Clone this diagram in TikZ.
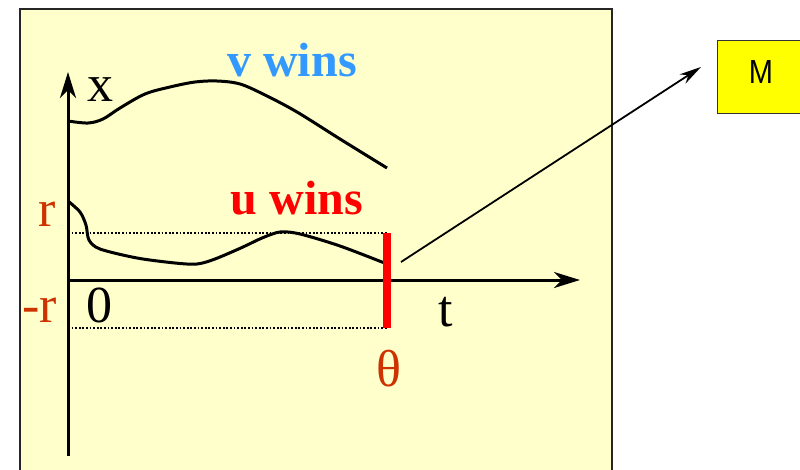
\documentclass[tikz,border=0pt]{standalone}
\usepackage{fontspec}
\setmainfont{Liberation Serif}
\newfontfamily\armfont{Liberation Sans}
\usetikzlibrary{arrows.meta}
\definecolor{panelbg}{HTML}{FFFFCC}
\definecolor{vblue}{HTML}{3399FF}
\definecolor{ured}{HTML}{FF0000}
\definecolor{rlab}{HTML}{CC3300}
\definecolor{mbox}{HTML}{FFFF00}
\tikzset{
  axis/.style={line width=3pt,-{Stealth[length=26pt,width=16pt,inset=8pt]}},
  curve/.style={line width=3pt,smooth,tension=0.55},
  guide/.style={line width=2.2pt,dash pattern=on 1.8pt off 1.8pt},
  lab/.style={inner sep=0pt,font=\fontsize{52}{52}\selectfont},
  wins/.style={inner sep=0pt,font=\fontsize{48}{48}\selectfont\bfseries},
}
\begin{document}
\begin{tikzpicture}[x=1pt,y=-1pt]
\useasboundingbox (0,0) rectangle (800,469);
\begin{scope}
\clip (0,0) rectangle (800,469);
\draw[fill=panelbg,draw=black!85,line width=2.4pt] (20,9) rectangle (612,490);
\node[draw=black!80,fill=mbox,line width=1.4pt,minimum width=90pt,minimum height=73pt,inner sep=0pt,anchor=north west] (M) at (717,40) {};
\end{scope}
\node[inner sep=0pt,font=\armfont\fontsize{29}{29}\selectfont,yscale=1.15] (Mlab) at (761,72) {M};
% coordinates
\coordinate (ybot) at (68,456);
\coordinate (ytop) at (68,72);
\coordinate (tl) at (68,280);
\coordinate (tr) at (580,280);
\coordinate (ru) at (68,233);
\coordinate (rl) at (68,328);
\coordinate (thu) at (387,233);
\coordinate (thl) at (387,328);
\coordinate (as) at (401,262);
\coordinate (ae) at (701,67);
% dotted guides
\draw[guide] (ru) -- (thu);
\draw[guide] (rl) -- (thl);
% axes
\draw[axis] (ybot) -- (ytop);
\draw[axis] (tl) -- (tr);
% curves
\draw[curve] plot coordinates {(68,121) (88,123) (103,119) (120,108) (145,94) (170,87) (195,82) (217,81) (240,84) (265,95) (297,112) (340,139) (387,168)};
\draw[curve,tension=0.5] plot coordinates {(68,201) (80,212) (86,225) (89,240) (100,249) (137,258) (175,263) (197,264) (215,259) (243,247) (262,238) (280,232) (300,234) (340,246) (387,264)};
% red bar
\draw[ured,line width=7.5pt] (thu) -- (thl);
% arrow to M
\draw[line width=1.8pt,-{Stealth[length=22pt,width=11pt,inset=7pt]}] (as) -- (ae);
% labels
\node[wins,text=vblue] (vw) at (292,60) {v wins};
\node[wins,text=ured] (uw) at (297,198) {u wins};
\node[lab] (xl) at (100,90) {x};
\node[lab,text=rlab] (rlb) at (47,214) {r};
\node[lab,text=rlab] (mrlb) at (40,310) {-r};
\node[lab] (zl) at (99,305) {0};
\node[lab] (tlb) at (446,312) {t};
\node[lab,text=rlab] (thlb) at (389,369) {θ};
\end{tikzpicture}
\end{document}
